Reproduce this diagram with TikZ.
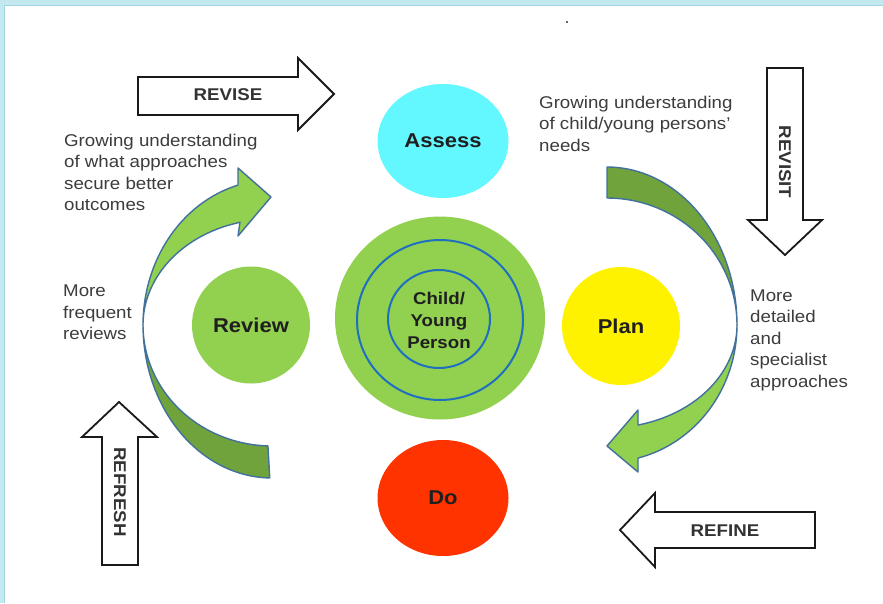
\documentclass[tikz,border=0pt]{standalone}
\usepackage{fontspec}
\setmainfont{Liberation Sans}[FakeStretch=1.1]
\usetikzlibrary{shapes.geometric}
\definecolor{lgreen}{HTML}{92D050}
\definecolor{dgreen}{HTML}{71A33C}
\definecolor{edgeblue}{HTML}{41719C}
\definecolor{ringblue}{HTML}{1F6FC0}
\definecolor{acyan}{HTML}{63F7FF}
\definecolor{dored}{HTML}{FF3300}
\definecolor{framefill}{HTML}{C4E8EF}
\definecolor{frameline}{HTML}{9FD6E2}
\definecolor{txt}{HTML}{3C3C3C}
\begin{document}
\begin{tikzpicture}[x=1pt,y=-1pt,
  blob/.style={ellipse, inner sep=0pt, font=\bfseries\fontsize{20}{24}\selectfont, text=black!88},
  ring/.style={ellipse, draw=ringblue, line width=2pt, inner sep=0pt},
  txtblock/.style={align=left, inner sep=0pt, text=txt, font=\fontsize{17}{21.5}\selectfont},
  arrowlabel/.style={inner sep=0pt, text=black!80, font=\bfseries\fontsize{17}{20}\selectfont},
  blockarrow/.style={draw=black!90, line width=1.8pt, fill=white, line join=miter},
  lightband/.style={fill=lgreen, draw=edgeblue, line width=1.4pt, line join=round},
  darkband/.style={fill=dgreen, draw=edgeblue, line width=1.4pt, line join=round}]
\useasboundingbox (0,0) rectangle (883,603);
\fill[white] (0,0) rectangle (883,603);
% frame strips
\fill[framefill] (0,0) rectangle (883,5);
\fill[framefill] (0,0) rectangle (4,603);
\draw[frameline, line width=1pt] (4,603) -- (4,5) -- (883,5);
\fill[black!60] (566,21) rectangle (568,23);

% left curved arrow
\filldraw[darkband] plot[domain=180:91, samples=40, variable=\t] ({272+129*cos(\t)},{325+153*sin(\t)})
  -- plot[domain=91.8:180, samples=40, variable=\t] ({272+129*cos(\t)},{325+121*sin(\t)}) -- cycle;
\filldraw[lightband] plot[domain=180:254.7, samples=40, variable=\t] ({272+129*cos(\t)},{325+145*sin(\t)})
  -- (238,168) -- (271,197) -- (238,236) -- (240,222)
  -- plot[domain=255.6:180, samples=40, variable=\t] ({272+129*cos(\t)},{325+106*sin(\t)}) -- cycle;

% right curved arrow
\filldraw[darkband] plot[domain=-90:0, samples=40, variable=\t] ({607+130*cos(\t)},{325+158*sin(\t)})
  -- plot[domain=0:-90, samples=40, variable=\t] ({607+130*cos(\t)},{325+127*sin(\t)}) -- cycle;
\filldraw[lightband] plot[domain=0:76.2, samples=40, variable=\t] ({607+130*cos(\t)},{325+137*sin(\t)})
  -- (638,472) -- (607,446) -- (638,410) -- (638,425)
  -- plot[domain=76.2:0, samples=40, variable=\t] ({607+130*cos(\t)},{325+103*sin(\t)}) -- cycle;

% circles
\node[blob, fill=acyan, minimum width=131pt, minimum height=114pt] (assess) at (443,141) {Assess};
\node[blob, fill=dored, minimum width=131pt, minimum height=116pt] (do) at (443,498) {Do};
\node[blob, fill=lgreen, minimum width=118pt, minimum height=117pt] (review) at (251,325) {Review};
\node[blob, fill=yellow, minimum width=118pt, minimum height=118pt] (plan) at (621,326) {Plan};
\node[ellipse, fill=lgreen, inner sep=0pt, minimum width=210pt, minimum height=203pt] (core) at (440,318) {};
\node[ring, minimum width=166pt, minimum height=160pt] (ringout) at (440,320) {};
\node[ring, minimum width=102pt, minimum height=98pt] (ringin) at (439,319) {};
\node[align=center, inner sep=0pt, text=black!88, font=\bfseries\fontsize{17}{22}\selectfont] (child) at (439,320) {Child/\\Young\\Person};

% block arrows
\draw[blockarrow] (138,77) -- (298,77) -- (298,58) -- (334,94) -- (298,130) -- (298,115) -- (138,115) -- cycle;
\node[arrowlabel] (revise) at (228,95) {REVISE};
\draw[blockarrow] (767,68) -- (803,68) -- (803,220) -- (822,220) -- (785,255) -- (748,220) -- (767,220) -- cycle;
\node[arrowlabel, rotate=-90] (revisit) at (785,162) {REVISIT};
\draw[blockarrow] (102,565) -- (102,437) -- (82,437) -- (119,402) -- (157,437) -- (138,437) -- (138,565) -- cycle;
\node[arrowlabel, rotate=-90] (refresh) at (120,492) {REFRESH};
\draw[blockarrow] (815,512) -- (655,512) -- (655,493) -- (620,530) -- (655,567) -- (655,548) -- (815,548) -- cycle;
\node[arrowlabel] (refine) at (725,531) {REFINE};

% texts
\node[txtblock, anchor=north west] (t1) at (64,133.5) {Growing understanding\\of what approaches\\secure better\\outcomes};
\node[txtblock, anchor=north west] (t2) at (539,95.5) {Growing understanding\\of child/young persons'\\needs};
\node[txtblock, anchor=north west] (t3) at (63,285) {More\\frequent\\reviews};
\node[txtblock, anchor=north west] (t4) at (750,289.5) {More\\detailed\\and\\specialist\\approaches};
\end{tikzpicture}
\end{document}
